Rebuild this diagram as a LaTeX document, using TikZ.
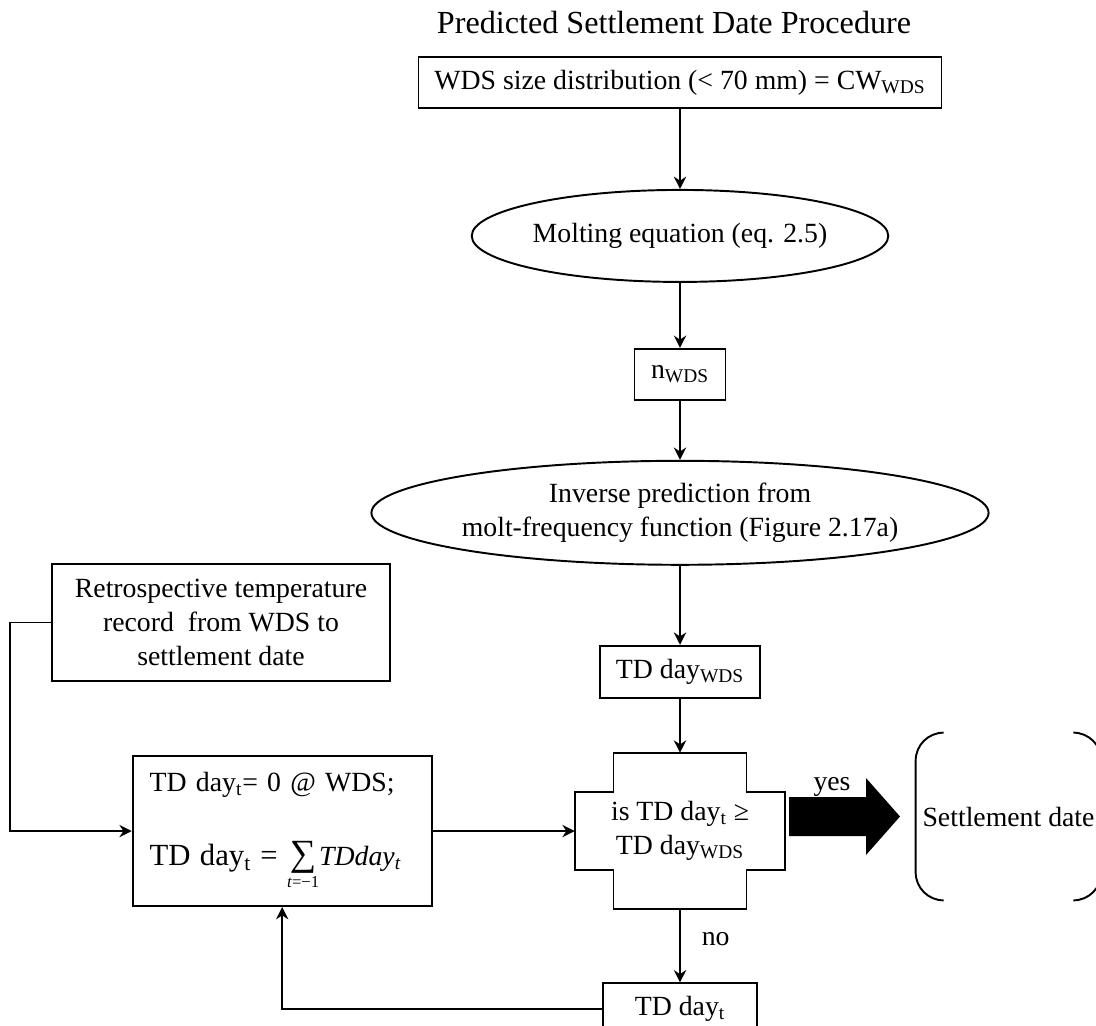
\documentclass[tikz,border=0pt]{standalone}
\usepackage{fontspec}
\setmainfont{Liberation Serif}
\usetikzlibrary{shapes.geometric, arrows.meta, positioning, calc}
\newcommand{\mainsize}{\fontsize{15.8}{19.2}\selectfont}
\newcommand{\sumsign}{\mathop{\mbox{\fontsize{21}{21}\selectfont ∑}}\limits_{\mbox{\fontsize{9.5}{10}\selectfont\textit{t}=−1}}}

\begin{document}
\begin{tikzpicture}[
        every node/.style={font=\mainsize},
        stepbox/.style={rectangle, draw, line width=1.1pt, align=center, inner sep=0pt},
        oval/.style={ellipse, draw, line width=1.1pt, align=center, inner sep=0pt},
        arrow/.style={-{Stealth[length=7pt, width=7pt]}, line width=1.1pt}
    ]
        \useasboundingbox (0,0) rectangle (21.92,-20.5);

        % main column
        \node[font=\fontsize{18.3}{22}\selectfont] (title) at (13.48,-0.46) {Predicted Settlement Date Procedure};
        \node[stepbox, minimum width=10.46cm, minimum height=1.02cm] (wds) at (13.6,-1.65) {WDS size distribution (< 70 mm) = CW\textsubscript{WDS}};
        \node[oval, minimum width=8.1cm, minimum height=1.84cm, below=1.6cm of wds] (molt) {Molting equation (eq. 2.5)};
        \node[stepbox, minimum width=1.82cm, minimum height=1.02cm, below=1.3cm of molt] (nwds) {n\textsubscript{WDS}};
        \node[oval, minimum width=9.92cm, minimum height=2.08cm, below=1.18cm of nwds] (inv) {Inverse prediction from\\molt-frequency function (Figure 2.17a)};
        \node[stepbox, minimum width=3.2cm, minimum height=1.04cm, below=1.58cm of inv] (tdwds) {TD day\textsubscript{WDS}};
        \node[minimum width=4.2cm, minimum height=3.12cm, align=center, below=1.08cm of tdwds] (check) {is TD day\textsubscript{t} ≥\\TD day\textsubscript{WDS}};
        \draw[line width=1.1pt, shift={(check.center)}] (-1.33,1.56) -- (1.33,1.56) -- (1.33,0.78) -- (2.1,0.78) -- (2.1,-0.78) -- (1.33,-0.78) -- (1.33,-1.56) -- (-1.33,-1.56) -- (-1.33,-0.78) -- (-2.1,-0.78) -- (-2.1,0.78) -- (-1.33,0.78) -- cycle;
        \node[stepbox, minimum width=3.08cm, minimum height=1.02cm, below=1.46cm of check] (tdt) {TD day\textsubscript{t}};

        % left side
        \node[stepbox, minimum width=6.76cm, minimum height=2.34cm] (retro) at (4.42,-12.45) {Retrospective temperature\\record\ \ from WDS to\\settlement date};
        \node[stepbox, minimum width=5.98cm, minimum height=3.0cm, text width=5.3cm, align=left, left=2.84cm of check] (sum) {TD day\textsubscript{t}= 0 @ WDS;\\[0.8cm]{\fontsize{17.5}{20}\selectfont TD day\textsubscript{t} =\ }$\sumsign$\textit{TDday}\textsubscript{\textit{t}}};

        % outcome
        \node[minimum width=3.7cm, minimum height=3.34cm, inner sep=0pt] (settle) at (20.17,-16.33) {Settlement date};
        \draw[line width=1.1pt] ([xshift=0.56cm]settle.north west) arc[start angle=90, end angle=180, radius=0.56cm] -- ([yshift=0.56cm]settle.south west) arc[start angle=180, end angle=270, radius=0.56cm];
        \draw[line width=1.1pt] ([xshift=-0.56cm]settle.north east) arc[start angle=90, end angle=0, radius=0.56cm] -- ([yshift=0.56cm]settle.south east) arc[start angle=0, end angle=-90, radius=0.56cm];
        \coordinate (yestail) at (15.78,-16.33);
        \fill ([yshift=0.39cm]yestail) -- ++(1.54,0) -- ++(0,0.38) -- ++(0.68,-0.77) -- ++(-0.68,-0.77) -- ++(0,0.38) -- ++(-1.54,0) -- cycle;
        \node (yes) at (16.64,-15.74) {yes};

        \draw[arrow] (wds) -- (molt);
        \draw[arrow] (molt) -- (nwds);
        \draw[arrow] (nwds) -- (inv);
        \draw[arrow] (inv) -- (tdwds);
        \draw[arrow] (tdwds) -- (check);
        \draw[arrow] (check) -- node[right=0.3cm, pos=0.4] {no} (tdt);
        \draw[arrow] (sum) -- (check);
        \draw[arrow] (retro.west) -- ++(-0.82,0) |- (sum.west);
        \draw[arrow] (tdt.west) -| (sum.south);
    \end{tikzpicture}
\end{document}
